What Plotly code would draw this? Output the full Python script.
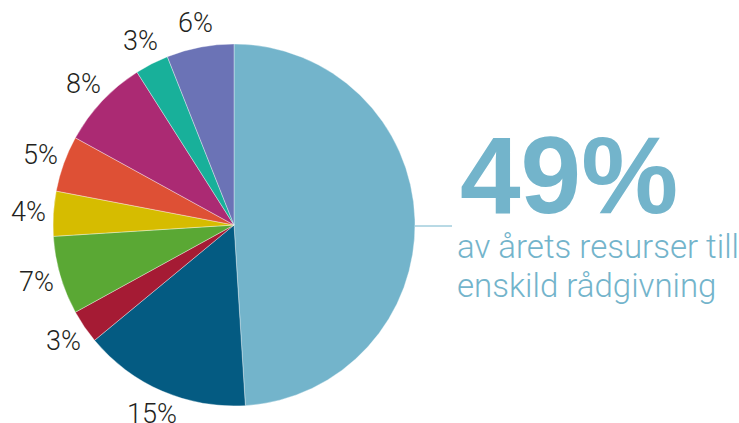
import math
import plotly.graph_objects as go

categories = ["Enskild rådgivning", "Kategori B", "Kategori C", "Kategori D", "Kategori E",
              "Kategori F", "Kategori G", "Kategori H", "Kategori I"]
values = [49, 15, 3, 7, 4, 5, 8, 3, 6]
colors = ["#73b4cb", "#045b82", "#a51b34", "#5aa834", "#d6bc00",
          "#de5035", "#ab2a73", "#18b09a", "#6b73b6"]
label_text = ["", "15%", "3%", "7%", "4%", "5%", "8%", "3%", "6%"]

headline = "49%"
subtitle_lines = ["av årets resurser till", "enskild rådgivning"]

W, H = 739, 423
CX, CY, R = 234, 225, 181      # pie centre / radius in pixels
LABEL_R = 206                  # radius of outside label centres

fig = go.Figure(go.Pie(
    labels=categories,
    values=values,
    sort=False,
    direction="clockwise",
    rotation=0,
    marker=dict(colors=colors, line=dict(color="rgba(255,255,255,0.6)", width=0.6)),
    textinfo="none",
    domain=dict(x=[(CX - R) / W, (CX + R) / W], y=[(H - CY - R) / H, (H - CY + R) / H]),
    showlegend=False,
    hoverinfo="label+percent",
))

# outside percentage labels, placed at the middle angle of each slice
total = sum(values)
cum = 0
for v, t in zip(values, label_text):
    mid = (cum + v / 2) / total * 2 * math.pi
    cum += v
    if not t:
        continue
    px = CX + LABEL_R * math.sin(mid)
    py = CY - LABEL_R * math.cos(mid)
    fig.add_annotation(text=t, xref="paper", yref="paper", x=px / W, y=(H - py) / H,
                       xanchor="center", yanchor="middle", showarrow=False,
                       font=dict(family="Roboto", weight=300, size=27, color="#231f20"))

fig.add_shape(type="line", xref="paper", yref="paper",
              x0=(CX + R) / W, x1=452 / W, y0=(H - 226) / H, y1=(H - 226) / H,
              line=dict(color="#73b4cb", width=1))

fig.add_annotation(text="<b>" + headline + "</b>", xref="paper", yref="paper",
                   x=458 / W, y=(H - 238) / H, xanchor="left", yanchor="bottom",
                   showarrow=False,
                   font=dict(family="Liberation Sans", size=109, color="#73b4cb"))
for i, line in enumerate(subtitle_lines):
    fig.add_annotation(text=line, xref="paper", yref="paper",
                       x=455 / W, y=(H - 225 - 39 * i) / H, xanchor="left", yanchor="top",
                       showarrow=False, align="left",
                       font=dict(family="Roboto", weight=300, size=33, color="#73b4cb"))

fig.update_layout(width=W, height=H, margin=dict(l=0, r=0, t=0, b=0),
                  paper_bgcolor="white", plot_bgcolor="white")

fig.write_html("out.html", config={"displayModeBar": False},
               post_script="document.body.style.margin='0';")
